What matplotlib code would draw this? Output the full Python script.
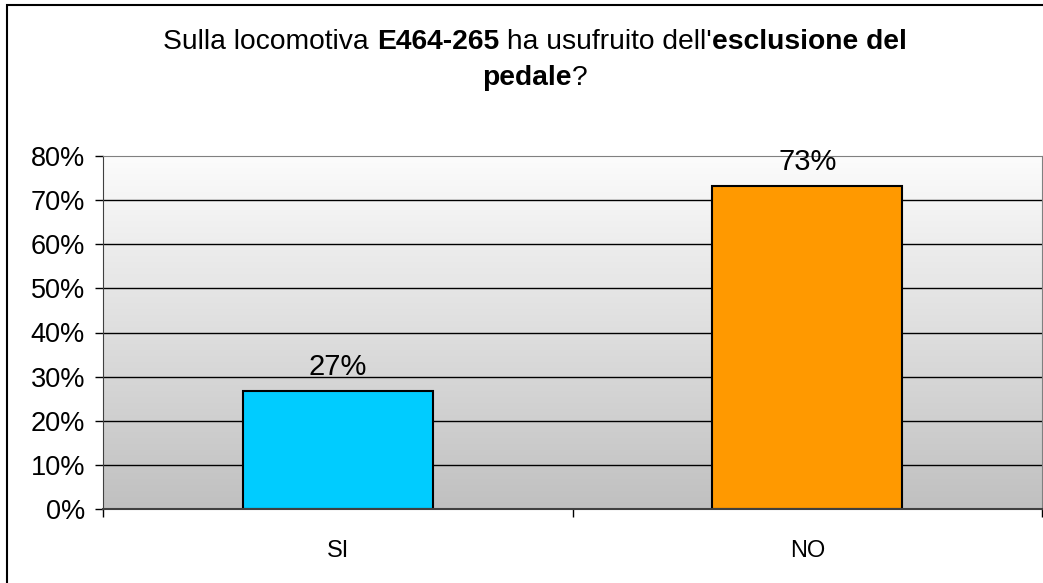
import numpy as np
import matplotlib.pyplot as plt
from matplotlib.patches import Rectangle

categories = ['SI', 'NO']
values = [26.7, 73.3]
bar_colors = ['#00CCFF', '#FF9900']
yticks = [0, 10, 20, 30, 40, 50, 60, 70, 80]

plt.rcParams['font.family'] = ['Liberation Sans', 'DejaVu Sans']

W, H = 1043, 583
fig = plt.figure(figsize=(W / 100, H / 100), dpi=100)
ax = fig.add_axes([103 / W, 74 / H, 939 / W, 353 / H])

x = np.arange(len(categories))
ax.set_xlim(-0.5, len(categories) - 0.5)
ax.set_ylim(0, 80)

# gradient background of the plot area
grad = np.linspace(0, 1, 256).reshape(-1, 1)
ax.imshow(grad, extent=[-0.5, len(categories) - 0.5, 0, 80], aspect='auto',
          cmap=plt.matplotlib.colors.LinearSegmentedColormap.from_list('g', ['#C0C0C0', '#FCFCFC']),
          origin='lower', zorder=0)

for v in yticks[1:-1]:
    ax.axhline(v, color='black', lw=1, zorder=1)

bars = ax.bar(x, values, width=0.405, color=bar_colors, edgecolor='black', lw=1.5, zorder=2)
for b, v in zip(bars, values):
    ax.annotate(f'{v:.0f}%', (b.get_x() + b.get_width() / 2, v), xytext=(0, 11.5),
                textcoords='offset points', ha='center', va='baseline', fontsize=21,
                zorder=3, annotation_clip=False)

ax.set_yticks(yticks)
ax.set_yticklabels([f'{v}%' for v in yticks], fontsize=19.5)
ax.tick_params(axis='y', length=6, width=1, pad=7, color='black')
ax.set_xticks(x)
ax.set_xticklabels(categories, fontsize=17)
ax.tick_params(axis='x', length=0, pad=22)
ax.set_xticks([-0.5, 0.5, 1.5], minor=True)
ax.tick_params(axis='x', which='minor', length=6, width=1, color='black')

ax.spines['top'].set_color('#808080')
ax.spines['right'].set_color('#808080')
ax.spines['left'].set_color('#404040')
ax.spines['bottom'].set_color('#404040')
ax.spines['bottom'].set_linewidth(1.5)

# outer frame
fig.patches.append(Rectangle((7 / W, -0.1), 1.2, 1.1 - 5 / H, transform=fig.transFigure,
                             fill=False, ec='black', lw=1.5))

# title with mixed bold parts
lines = [
    [('Sulla locomotiva ', 'normal'), ('E464-265', 'bold'), (' ha usufruito dell\'', 'normal'),
     ('esclusione del', 'bold')],
    [('pedale', 'bold'), ('?', 'normal')],
]
baselines = [H - 49, H - 85]
cx = 535
renderer = fig.canvas.get_renderer()
for parts, base in zip(lines, baselines):
    texts = []
    for s, wgt in parts:
        t = fig.text(0, base / H, s, fontsize=20.3, fontweight=wgt, va='baseline', ha='left')
        texts.append(t)
    widths = [t.get_window_extent(renderer).width for t in texts]
    xpos = cx - sum(widths) / 2
    for t, w in zip(texts, widths):
        t.set_x(xpos / W)
        xpos += w

fig.savefig('out.png', dpi=100)
